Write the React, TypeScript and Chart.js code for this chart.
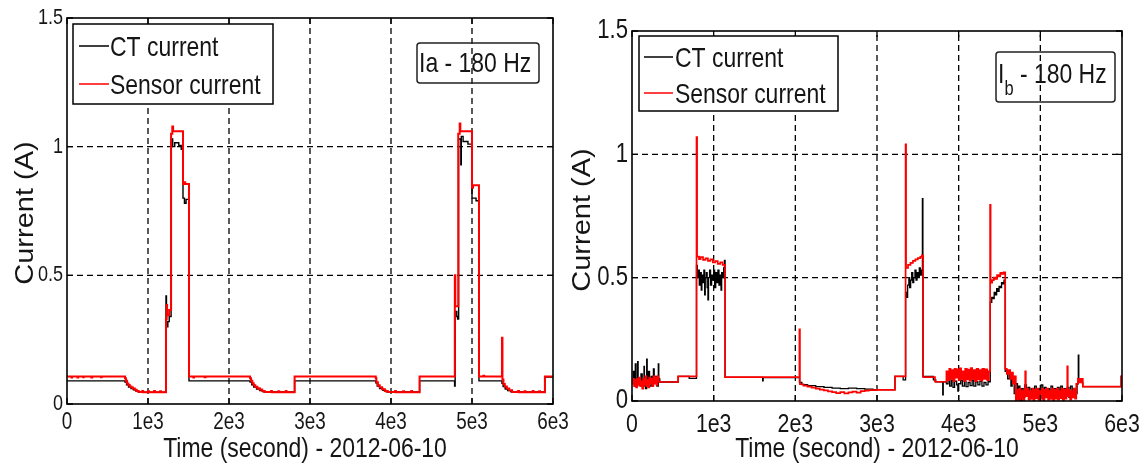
import React, { useEffect, useRef } from 'react';
import { Chart, registerables } from 'chart.js';

Chart.register(...registerables);

const FONT_FAMILY = "'Liberation Sans', Arial, Helvetica, sans-serif";
const SQUEEZE = 0.82;
const TEXT_COLOR = '#151515';

// ---------- shared axis text ----------
const xTickValues = [0, 1000, 2000, 3000, 4000, 5000, 6000];
const xTickLabels = ['0', '1e3', '2e3', '3e3', '4e3', '5e3', '6e3'];
const yTickValues = [0, 0.5, 1, 1.5];
const yTickLabels = ['0', '0.5', '1', '1.5'];
const seriesNames = ['CT current', 'Sensor current'];
const seriesColors = ['#000000', '#ff0000'];
const xAxisTitle = 'Time (second) - 2012-06-10';
const yAxisTitle = 'Current (A)';
const iaAnnotation = 'Ia - 180 Hz';
const ibAnnotationMain = 'I';
const ibAnnotationSub = 'b';
const ibAnnotationRest = ' - 180 Hz';

type Pt = [number, number];

// ---------- left panel (Ia) : [time s, current A] ----------
const iaCt: Pt[] = [
  [0, 0.09],
  [716, 0.085], [735, 0.075], [760, 0.066], [790, 0.06], [820, 0.055], [850, 0.05], [880, 0.046],
  [1222, 0.42], [1228, 0.3], [1245, 0.32], [1262, 0.34], [1285, 1.03], [1305, 1.0], [1330, 1.015],
  [1380, 1.005], [1410, 0.99], [1432, 0.8], [1450, 0.78], [1470, 0.795], [1506, 0.09],
  [2260, 0.085], [2280, 0.075], [2305, 0.066], [2340, 0.058], [2380, 0.052], [2420, 0.047],
  [2810, 0.09],
  [3812, 0.082], [3830, 0.07], [3860, 0.06], [3900, 0.053], [3940, 0.047],
  [4353, 0.09],
  [4785, 0.07], [4792, 0.36], [4812, 0.34], [4822, 0.33], [4835, 1.03], [4862, 0.93], [4868, 1.04],
  [4890, 1.02], [4950, 1.01], [5000, 0.8], [5050, 0.79], [5086, 0.09],
  [5370, 0.08], [5385, 0.068], [5410, 0.058], [5440, 0.052], [5480, 0.047],
  [5900, 0.105], [6000, 0.105],
];

const iaSensor: Pt[] = [
  [0, 0.107], [55, 0.103], [62, 0.107], [130, 0.103], [138, 0.107], [200, 0.104], [206, 0.107],
  [300, 0.103], [312, 0.107], [420, 0.104], [428, 0.107],
  [716, 0.1], [728, 0.09], [742, 0.08], [758, 0.074], [775, 0.068], [795, 0.064], [815, 0.06],
  [838, 0.055], [860, 0.051], [885, 0.047], [930, 0.051], [940, 0.046], [1000, 0.05], [1012, 0.046],
  [1075, 0.051], [1085, 0.046], [1150, 0.05], [1160, 0.046],
  [1222, 0.33], [1230, 0.385], [1236, 0.345], [1262, 0.365], [1285, 1.05], [1300, 1.078], [1310, 1.06],
  [1432, 0.855], [1445, 0.862], [1460, 0.855], [1506, 0.107],
  [1560, 0.103], [1568, 0.107], [1700, 0.104], [1710, 0.107],
  [2260, 0.1], [2272, 0.09], [2288, 0.081], [2305, 0.073], [2325, 0.067], [2350, 0.061], [2380, 0.056],
  [2410, 0.051], [2440, 0.047], [2520, 0.051], [2530, 0.046], [2610, 0.05], [2620, 0.046],
  [2700, 0.051], [2710, 0.046],
  [2810, 0.107],
  [3812, 0.1], [3820, 0.085], [3838, 0.073], [3860, 0.065], [3890, 0.057], [3925, 0.051], [3960, 0.047],
  [4050, 0.051], [4060, 0.046], [4150, 0.05], [4160, 0.046], [4250, 0.051], [4260, 0.046],
  [4353, 0.107],
  [4788, 0.5], [4794, 0.38], [4830, 1.05], [4848, 1.09], [4856, 1.06], [5000, 0.84], [5012, 0.85],
  [5086, 0.107], [5140, 0.11], [5150, 0.107],
  [5370, 0.257], [5376, 0.095], [5388, 0.078], [5405, 0.068], [5430, 0.06], [5460, 0.053], [5495, 0.047],
  [5570, 0.051], [5580, 0.046], [5650, 0.05], [5660, 0.046], [5750, 0.051], [5760, 0.046],
  [5830, 0.05], [5840, 0.046],
  [5900, 0.107], [6000, 0.107],
];

// ---------- right panel (Ib) : [time s, current A] ----------
const ibCt: Pt[] = [
  [0, 0.08], [15, 0.12], [25, 0.07], [40, 0.15], [50, 0.09], [65, 0.06], [69, 0.16], [75, 0.08],
  [95, 0.07], [110, 0.11], [125, 0.06], [147, 0.14], [152, 0.08], [165, 0.05], [180, 0.17], [186, 0.09],
  [200, 0.12], [215, 0.06], [235, 0.1], [250, 0.07], [262, 0.13], [272, 0.08], [290, 0.1], [305, 0.06],
  [322, 0.15], [328, 0.09], [340, 0.077],
  [565, 0.1], [700, 0.092],
  [790, 0.55], [800, 0.5], [812, 0.53], [824, 0.47], [835, 0.52], [848, 0.45], [856, 0.51], [870, 0.48],
  [880, 0.53], [890, 0.43], [897, 0.5], [910, 0.52], [920, 0.46], [930, 0.41], [937, 0.5], [950, 0.53],
  [962, 0.47], [975, 0.51], [988, 0.49], [1000, 0.53], [1012, 0.46], [1025, 0.52], [1040, 0.48],
  [1052, 0.53], [1065, 0.47], [1078, 0.51], [1090, 0.45], [1098, 0.52], [1110, 0.5], [1122, 0.54],
  [1132, 0.57], [1140, 0.096],
  [1600, 0.082], [1606, 0.095],
  [2050, 0.075], [2080, 0.066], [2150, 0.062], [2250, 0.058], [2350, 0.055], [2450, 0.052],
  [2550, 0.05], [2650, 0.052], [2750, 0.05], [2850, 0.048], [2950, 0.046],
  [3220, 0.1], [3320, 0.086],
  [3350, 0.44], [3362, 0.42], [3375, 0.47], [3390, 0.5], [3400, 0.46], [3412, 0.49], [3425, 0.52],
  [3438, 0.48], [3450, 0.5], [3465, 0.53], [3478, 0.49], [3490, 0.52], [3505, 0.5], [3518, 0.54],
  [3530, 0.51], [3545, 0.53], [3556, 0.82], [3562, 0.1],
  [3690, 0.086], [3720, 0.078], [3805, 0.025], [3811, 0.078],
  [3850, 0.07], [3870, 0.09], [3890, 0.06], [3910, 0.085], [3930, 0.055], [3950, 0.08], [3975, 0.065],
  [3990, 0.04], [3997, 0.07], [4025, 0.085], [4045, 0.06], [4070, 0.08], [4090, 0.058], [4115, 0.075],
  [4140, 0.062], [4165, 0.085], [4185, 0.06], [4210, 0.078], [4235, 0.065], [4260, 0.08], [4285, 0.06],
  [4310, 0.075], [4335, 0.065], [4360, 0.078],
  [4387, 0.4], [4405, 0.42], [4420, 0.415], [4435, 0.44], [4450, 0.43], [4465, 0.455], [4480, 0.445],
  [4495, 0.465], [4510, 0.46], [4525, 0.48], [4540, 0.475], [4555, 0.49], [4570, 0.12], [4600, 0.09],
  [4620, 0.11], [4640, 0.06], [4655, 0.1], [4680, 0.03], [4700, 0.07],
  [4720, 0.02], [4735, 0.06], [4750, 0.0], [4770, 0.05], [4790, 0.015], [4810, 0.065], [4830, 0.02],
  [4850, 0.055], [4870, 0.01], [4890, 0.05], [4910, 0.025], [4930, 0.06], [4950, 0.015], [4970, 0.05],
  [4990, 0.02], [5010, 0.065], [5030, 0.01], [5050, 0.055], [5070, 0.02], [5090, 0.05], [5110, 0.01],
  [5130, 0.06], [5150, 0.02], [5170, 0.05], [5190, 0.015], [5210, 0.055], [5230, 0.02], [5250, 0.06],
  [5270, 0.01], [5290, 0.05], [5310, 0.02], [5330, 0.055], [5350, 0.015], [5370, 0.06], [5390, 0.02],
  [5410, 0.05], [5430, 0.03], [5450, 0.07], [5465, 0.186], [5471, 0.08], [5490, 0.09], [5510, 0.075],
  [5520, 0.058], [5990, 0.1], [6000, 0.1],
];

const ibSensor: Pt[] = [
  [0, 0.07], [12, 0.09], [25, 0.06], [38, 0.085], [50, 0.055], [62, 0.09], [75, 0.065], [88, 0.095],
  [100, 0.06], [112, 0.08], [125, 0.05], [138, 0.09], [150, 0.065], [162, 0.1], [175, 0.06], [188, 0.085],
  [200, 0.055], [212, 0.095], [225, 0.07], [238, 0.09], [250, 0.06], [262, 0.1], [275, 0.07], [288, 0.095],
  [300, 0.065], [312, 0.1], [325, 0.08], [340, 0.077],
  [565, 0.1],
  [790, 1.07], [797, 0.585], [820, 0.575], [840, 0.583], [870, 0.572], [900, 0.578], [930, 0.568],
  [960, 0.574], [990, 0.562], [1020, 0.567], [1050, 0.556], [1080, 0.562], [1110, 0.552], [1140, 0.097],
  [2050, 0.29], [2056, 0.068], [2100, 0.062], [2150, 0.058], [2200, 0.054], [2250, 0.05], [2300, 0.046],
  [2350, 0.043], [2400, 0.039], [2450, 0.036], [2500, 0.032], [2550, 0.036], [2600, 0.031], [2650, 0.035],
  [2700, 0.038], [2750, 0.034], [2800, 0.04], [2850, 0.042], [2900, 0.044], [3000, 0.045],
  [3220, 0.1],
  [3350, 1.04], [3356, 0.54], [3380, 0.552], [3410, 0.56], [3440, 0.568], [3470, 0.574], [3500, 0.579],
  [3530, 0.584], [3550, 0.59], [3565, 0.097],
  [3710, 0.078],
  [3850, 0.12], [3870, 0.085], [3885, 0.13], [3900, 0.09], [3915, 0.125], [3935, 0.08], [3950, 0.13],
  [3965, 0.095], [3980, 0.128], [4000, 0.085], [4015, 0.132], [4030, 0.09], [4050, 0.12], [4065, 0.08],
  [4080, 0.13], [4100, 0.088], [4115, 0.127], [4135, 0.082], [4150, 0.133], [4165, 0.09], [4185, 0.125],
  [4200, 0.08], [4220, 0.13], [4240, 0.088], [4255, 0.125], [4275, 0.083], [4290, 0.13], [4310, 0.09],
  [4330, 0.128], [4350, 0.085], [4370, 0.12],
  [4385, 0.795], [4391, 0.48], [4410, 0.49], [4430, 0.5], [4450, 0.495], [4470, 0.51], [4490, 0.505],
  [4510, 0.52], [4530, 0.515], [4550, 0.522], [4570, 0.13], [4590, 0.11], [4610, 0.125], [4630, 0.09],
  [4650, 0.115], [4665, 0.07], [4680, 0.1], [4700, 0.0],
  [4715, 0.045], [4730, 0.005], [4745, 0.05], [4760, 0.01], [4775, 0.04], [4790, 0.0], [4805, 0.05],
  [4815, 0.12], [4822, 0.02], [4840, 0.048], [4855, 0.005], [4870, 0.04], [4885, 0.01], [4900, 0.05],
  [4915, 0.0], [4930, 0.045], [4945, 0.012], [4960, 0.05], [4975, 0.005], [4990, 0.04], [5005, 0.01],
  [5020, 0.05], [5035, 0.0], [5050, 0.045], [5065, 0.015], [5080, 0.05], [5095, 0.005], [5110, 0.04],
  [5125, 0.01], [5140, 0.05], [5155, 0.0], [5170, 0.045], [5185, 0.01], [5200, 0.05], [5215, 0.005],
  [5230, 0.04], [5245, 0.012], [5260, 0.05], [5275, 0.0], [5290, 0.045], [5305, 0.01], [5320, 0.05],
  [5330, 0.14], [5336, 0.02], [5350, 0.045], [5365, 0.005], [5380, 0.04], [5395, 0.015], [5410, 0.05],
  [5425, 0.01], [5440, 0.07], [5460, 0.09], [5480, 0.075], [5500, 0.09], [5520, 0.058], [5990, 0.1],
  [6000, 0.1],
];

// ---------- layout (page pixel coordinates) ----------
const CANVAS_H = 466;

interface AnnotPart { text: string; size: number; dy: number }
interface Panel {
  key: string;
  offset: number;
  width: number;
  area: { left: number; right: number; top: number; bottom: number };
  ct: Pt[];
  sensor: Pt[];
  ctWidth: number;
  sensorWidth: number;
  yTickRight: number;
  yTickSize: number;
  xTickSize: number;
  xTickBaseline: number;
  legend: { x: number; y: number; w: number; h: number; rows: number[]; lineX: number[]; textX: number; size: number; baseOff: number };
  annot: { x: number; y: number; w: number; h: number; textX: number; baseline: number; parts: AnnotPart[] };
  yTitle: { x: number; y: number; size: number };
  xTitle: { x: number; y: number; size: number };
}

const panels: Panel[] = [
  {
    key: 'ia', offset: 0, width: 580,
    area: { left: 67, right: 553, top: 18, bottom: 404 },
    ct: iaCt, sensor: iaSensor, ctWidth: 1.4, sensorWidth: 2,
    yTickRight: 63, yTickSize: 22, xTickSize: 23, xTickBaseline: 429,
    legend: { x: 73, y: 24, w: 200, h: 80, rows: [46, 84], lineX: [79, 109], textX: 110, size: 28, baseOff: 9.5 },
    annot: { x: 417, y: 43, w: 122, h: 40, textX: 419, baseline: 72, parts: [{ text: iaAnnotation, size: 28, dy: 0 }] },
    yTitle: { x: 33, y: 213, size: 29 },
    xTitle: { x: 305, y: 457, size: 28 },
  },
  {
    key: 'ib', offset: 560, width: 586,
    area: { left: 632, right: 1122, top: 31, bottom: 401 },
    ct: ibCt, sensor: ibSensor, ctWidth: 1.3, sensorWidth: 1.7,
    yTickRight: 628, yTickSize: 27, xTickSize: 26, xTickBaseline: 432,
    legend: { x: 639, y: 36, w: 199, h: 75, rows: [57, 93], lineX: [644, 673], textX: 675, size: 28, baseOff: 9.5 },
    annot: {
      x: 996, y: 52, w: 119, h: 50, textX: 998, baseline: 83,
      parts: [
        { text: ibAnnotationMain, size: 28, dy: 0 },
        { text: ibAnnotationSub, size: 20, dy: 12 },
        { text: ibAnnotationRest, size: 28, dy: 0 },
      ],
    },
    yTitle: { x: 590, y: 220, size: 29 },
    xTitle: { x: 877, y: 457, size: 28 },
  },
];

function drawText(
  ctx: CanvasRenderingContext2D, text: string, x: number, y: number, size: number,
  align: CanvasTextAlign, baseline: CanvasTextBaseline = 'alphabetic', squeeze = SQUEEZE,
) {
  ctx.save();
  ctx.translate(x, y);
  ctx.scale(squeeze, 1);
  ctx.font = `${size}px ${FONT_FAMILY}`;
  ctx.fillStyle = TEXT_COLOR;
  ctx.textAlign = align;
  ctx.textBaseline = baseline;
  ctx.fillText(text, 0, 0);
  ctx.restore();
}

function makePlugin(p: Panel) {
  const X = (v: number) => v - p.offset;
  return {
    id: 'matlabDecor_' + p.key,
    beforeDatasetsDraw(chart: any) {
      const { ctx, chartArea: a } = chart;
      const xs = chart.scales.x;
      const ys = chart.scales.y;
      ctx.save();
      ctx.strokeStyle = '#000';
      ctx.lineWidth = 1.3;
      ctx.setLineDash([6, 4]);
      ctx.beginPath();
      for (const v of xTickValues) {
        const px = xs.getPixelForValue(v);
        if (px <= a.left + 1 || px >= a.right - 1) continue;
        ctx.moveTo(px, a.bottom);
        ctx.lineTo(px, a.top);
      }
      for (const v of yTickValues) {
        const py = ys.getPixelForValue(v);
        if (py <= a.top + 1 || py >= a.bottom - 1) continue;
        ctx.moveTo(a.left, py);
        ctx.lineTo(a.right, py);
      }
      ctx.stroke();
      ctx.restore();
    },
    afterDatasetsDraw(chart: any) {
      const { ctx, chartArea: a } = chart;
      const xs = chart.scales.x;
      const ys = chart.scales.y;
      ctx.save();
      ctx.setLineDash([]);
      // inward tick marks
      ctx.strokeStyle = '#000';
      ctx.lineWidth = 1.3;
      ctx.beginPath();
      const TL = 6;
      for (const v of xTickValues) {
        const px = xs.getPixelForValue(v);
        ctx.moveTo(px, a.bottom); ctx.lineTo(px, a.bottom - TL);
        ctx.moveTo(px, a.top); ctx.lineTo(px, a.top + TL);
      }
      for (const v of yTickValues) {
        const py = ys.getPixelForValue(v);
        ctx.moveTo(a.left, py); ctx.lineTo(a.left + TL, py);
        ctx.moveTo(a.right, py); ctx.lineTo(a.right - TL, py);
      }
      ctx.stroke();
      // axes box
      ctx.lineWidth = 1.6;
      ctx.strokeRect(a.left, a.top, a.right - a.left, a.bottom - a.top);

      // tick labels
      yTickValues.forEach((v, i) => {
        drawText(ctx, yTickLabels[i], X(p.yTickRight), ys.getPixelForValue(v), p.yTickSize, 'right', 'middle');
      });
      xTickValues.forEach((v, i) => {
        drawText(ctx, xTickLabels[i], xs.getPixelForValue(v), p.xTickBaseline, p.xTickSize, 'center', 'alphabetic');
      });

      // legend
      const L = p.legend;
      ctx.fillStyle = '#fff';
      ctx.fillRect(X(L.x), L.y, L.w, L.h);
      ctx.strokeStyle = '#000';
      ctx.lineWidth = 1.5;
      ctx.strokeRect(X(L.x), L.y, L.w, L.h);
      chart.data.datasets.forEach((ds: any, i: number) => {
        const ry = L.rows[i];
        ctx.strokeStyle = ds.borderColor;
        ctx.lineWidth = 1.5;
        ctx.beginPath();
        ctx.moveTo(X(L.lineX[0]), ry);
        ctx.lineTo(X(L.lineX[1]), ry);
        ctx.stroke();
        drawText(ctx, ds.label, X(L.textX), ry + L.baseOff, L.size, 'left');
      });

      // annotation box
      const A = p.annot;
      ctx.strokeStyle = '#222';
      ctx.lineWidth = 1.5;
      ctx.beginPath();
      if ((ctx as any).roundRect) (ctx as any).roundRect(X(A.x), A.y, A.w, A.h, 3);
      else ctx.rect(X(A.x), A.y, A.w, A.h);
      ctx.stroke();
      let tx = X(A.textX);
      for (const part of A.parts) {
        drawText(ctx, part.text, tx, A.baseline + part.dy, part.size, 'left');
        ctx.font = `${part.size}px ${FONT_FAMILY}`;
        tx += ctx.measureText(part.text).width * SQUEEZE;
      }

      // axis titles
      drawText(ctx, xAxisTitle, X(p.xTitle.x), p.xTitle.y, p.xTitle.size, 'center');
      ctx.save();
      ctx.translate(X(p.yTitle.x), p.yTitle.y);
      ctx.scale(0.9, 1);
      ctx.rotate(-Math.PI / 2);
      ctx.font = `${p.yTitle.size}px ${FONT_FAMILY}`;
      ctx.fillStyle = TEXT_COLOR;
      ctx.textAlign = 'center';
      ctx.textBaseline = 'alphabetic';
      ctx.fillText(yAxisTitle, 0, 0);
      ctx.restore();

      ctx.restore();
    },
  };
}

function buildConfig(p: Panel): any {
  return {
    type: 'line',
    data: {
      datasets: [
        {
          label: seriesNames[0],
          data: p.ct.map(([x, y]) => ({ x, y })),
          borderColor: seriesColors[0],
          borderWidth: p.ctWidth,
          pointRadius: 0,
          stepped: true,
          fill: false,
          order: 2,
        },
        {
          label: seriesNames[1],
          data: p.sensor.map(([x, y]) => ({ x, y })),
          borderColor: seriesColors[1],
          borderWidth: p.sensorWidth,
          pointRadius: 0,
          stepped: true,
          fill: false,
          order: 1,
        },
      ],
    },
    options: {
      animation: false,
      responsive: false,
      maintainAspectRatio: false,
      events: [],
      layout: {
        padding: { left: 0, top: p.area.top, right: p.width - (p.area.right - p.offset), bottom: 0 },
      },
      plugins: { legend: { display: false }, tooltip: { enabled: false }, title: { display: false } },
      scales: {
        x: {
          type: 'linear',
          min: 0,
          max: 6000,
          ticks: { display: false, stepSize: 1000 },
          grid: { display: false, drawTicks: false },
          border: { display: false },
          afterFit: (s: any) => { s.height = CANVAS_H - p.area.bottom; },
        },
        y: {
          type: 'linear',
          min: 0,
          max: 1.5,
          ticks: { display: false, stepSize: 0.5 },
          grid: { display: false, drawTicks: false },
          border: { display: false },
          afterFit: (s: any) => { s.width = p.area.left - p.offset; },
        },
      },
    },
    plugins: [makePlugin(p)],
  };
}

function PanelChart({ panel }: { panel: Panel }) {
  const ref = useRef<HTMLCanvasElement | null>(null);
  useEffect(() => {
    if (!ref.current) return;
    const chart = new Chart(ref.current, buildConfig(panel));
    return () => chart.destroy();
  }, [panel]);
  return (
    <canvas
      ref={ref}
      width={panel.width}
      height={CANVAS_H}
      style={{ position: 'absolute', left: panel.offset, top: 0, width: panel.width, height: CANVAS_H }}
    />
  );
}

export default function App() {
  return (
    <div style={{ position: 'absolute', left: 0, top: 0, width: 1146, height: CANVAS_H, background: '#fff', overflow: 'hidden' }}>
      {panels.map((p) => (
        <PanelChart key={p.key} panel={p} />
      ))}
    </div>
  );
}
